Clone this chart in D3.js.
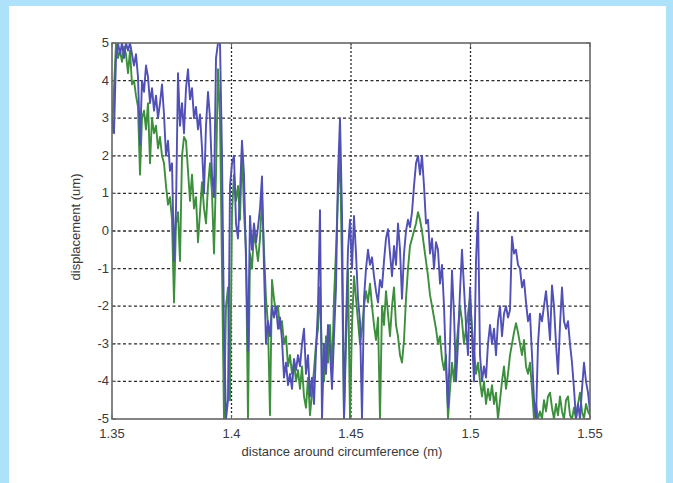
<!DOCTYPE html>
<html>
<head>
<meta charset="utf-8">
<script src="https://cdn.jsdelivr.net/npm/d3@7"></script>
<style>
  html, body { margin: 0; padding: 0; background: #aee1fa; }
  svg { display: block; }
  .tick-label { font-family: "Liberation Sans", Arial, sans-serif; font-size: 13px; fill: #3a3a3a; }
  .axis-title { font-family: "Liberation Sans", Arial, sans-serif; font-size: 13px; fill: #3a3a3a; }
</style>
</head>
<body>
<svg id="chart" width="673" height="483"></svg>
<script>
// Sampling of the measurement: first and last position and number of samples (m)
const sampleStart = 1.35;
const sampleEnd = 1.55;
const sampleCount = 240;

// Tick values for both axes
const xTicks = [1.35, 1.4, 1.45, 1.5, 1.55];
const xTickLabels = ["1.35", "1.4", "1.45", "1.5", "1.55"];
const yTicks = [5, 4, 3, 2, 1, 0, -1, -2, -3, -4, -5];
const yTickLabels = ["5", "4", "3", "2", "1", "0", "-1", "-2", "-3", "-4", "-5"];

// Displacement, first run (um)
const displacementBlue = [
  3.0, 2.6, 4.6, 5.0, 4.7, 5.0, 4.6, 5.0, 4.8, 5.0,
  4.7, 4.4, 4.7, 4.1, 2.3, 4.0, 3.7, 4.4, 4.1, 3.4,
  3.8, 3.2, 3.6, 3.0, 3.4, 3.9, 3.1, 2.0, 2.4, 1.6,
  1.8, -0.8, 0.6, 4.2, 2.8, 3.4, 2.6, 3.8, 4.3, 3.5,
  3.8, 3.0, 3.3, 2.7, 3.1, 2.2, 1.0, 2.8, 3.7, 3.0,
  1.5, 0.9, 4.6, 5.0, 5.0, 2.0, -2.6, -5.0, -4.5, 1.2,
  1.8, 2.0, 0.2, -0.2, 1.0, 2.4, 1.5, -0.8, -3.2, 0.4,
  -0.5, 0.2, -0.3, 0.1, 0.6, 1.45, -1.0, -3.0, -2.4, -2.8,
  -2.0, -2.3, -2.0, -2.6, -2.3, -2.9, -3.9, -3.5, -4.1, -3.8,
  -4.2, -3.4, -3.7, -3.3, -3.6, -3.0, -2.6, -3.8, -3.3, -4.4,
  -3.9, -4.6, -3.2, -2.0, 0.55, -5.0, -3.0, -3.8, -2.5, -3.2,
  -4.2, -2.8, -1.5, 1.5, 3.0, 0.5, -5.0, -2.5, -0.5, 0.3,
  -1.0, 0.4, -0.6, -1.8, -2.4, -5.0, -1.8, -1.0, -0.5, -0.9,
  -0.7, -1.2, -1.6, -1.9, -1.3, -1.5, -0.8, -0.2, 0.05, -0.6,
  -1.2, -0.4, -0.9, 0.2, -0.5, -1.8, -0.6, 0.0, 0.3, 0.1,
  0.5, 1.2, 1.8, 2.0, 1.5, 2.0, 1.2, 0.2, 0.3, -0.6,
  -0.2, -1.0, -0.3, -0.5, -1.4, -0.9, -2.0, -3.6, -4.7, -3.0,
  -1.05, -2.2, -4.0, -3.0, -1.6, -0.5, -1.5, -2.5, -3.3, -1.5,
  -2.8, -4.0, -0.8, 0.5, -3.3, -4.0, -3.6, -3.9, -3.0, -2.5,
  -3.0, -2.6, -3.3, -2.4, -2.0, -2.8, -2.2, -2.0, -2.3, -2.1,
  -0.15, -0.6, -0.5, -0.9, -1.0, -1.5, -1.3, -1.9, -2.4, -2.2,
  -3.3, -4.5, -5.0, -3.0, -2.2, -2.4, -2.0, -1.6, -2.2, -2.9,
  -1.45, -2.0, -3.0, -3.8, -2.5, -1.5, -2.4, -2.6, -2.4, -3.0,
  -3.5, -4.2, -5.0, -4.6, -5.0, -4.2, -3.5, -4.0, -4.3, -4.8
];

// Displacement, second run (um)
const displacementGreen = [
  2.6, 3.8, 5.0, 4.6, 4.8, 4.5, 4.9, 4.7, 4.2, 4.8,
  3.9, 4.0, 3.6, 3.3, 1.5, 3.0, 3.2, 2.7, 3.4, 1.8,
  3.0, 2.6, 2.8, 2.2, 2.5, 2.0, 1.8, 1.2, 0.7, 0.9,
  0.3, -1.9, 0.2, 0.5, -0.8, 2.0, 2.5, 2.4, 1.6, 0.8,
  1.5, 0.6, 0.9, -0.3, 0.5, 1.3, 0.6, 0.2, 1.2, 1.8,
  1.0, -0.6, 1.5, 4.3, 3.0, -1.0, -5.0, -2.0, -1.5, -4.5,
  0.5, 1.5, 0.8, 1.2, 0.3, 2.2, 0.5, -0.5, -5.0, -0.6,
  -1.0, 0.0, -0.4, -0.8, -0.2, 0.9, -0.5, -1.8, -2.5, -4.9,
  -1.3, -1.8, -2.2, -2.0, -2.6, -2.4, -3.0, -2.8, -3.6, -3.3,
  -3.8, -3.5, -4.0, -3.7, -4.2, -3.6, -4.4, -4.7, -3.9, -4.9,
  -4.3, -3.7, -3.0, -2.6, -1.5, -3.5, -4.0, -2.8, -3.5, -2.5,
  -3.8, -1.8, -0.5, 1.0, 2.1, -1.0, -5.0, -3.0, -1.0, -5.0,
  -2.5, -1.2, -1.8, -2.4, -3.0, -2.6, -2.0, -1.6, -1.9, -1.4,
  -2.0, -2.5, -2.9, -2.3, -5.0, -2.0, -2.5, -1.6, -2.2, -2.8,
  -2.0, -1.5, -2.5, -2.8, -3.3, -3.5, -2.9, -1.8, -1.0, -0.4,
  -0.2, 0.0, 0.2, 0.5, 0.3, 0.0, -0.4, -0.8, -1.2, -1.7,
  -2.0, -2.3, -2.6, -3.0, -2.8, -3.4, -3.7, -3.3, -5.0, -4.2,
  -3.5, -4.0, -3.2, -2.6, -2.0, -2.4, -3.0, -2.6, -2.2, -1.75,
  -2.6, -3.2, -3.8, -3.5, -4.0, -4.4, -4.0, -4.6, -4.2, -4.5,
  -4.1, -4.6, -4.3, -5.0, -4.5, -4.0, -3.6, -4.2, -3.8, -3.3,
  -3.0, -2.7, -2.45, -2.7, -3.0, -3.3, -2.9, -3.6, -3.8, -3.5,
  -4.2, -5.0, -4.6, -5.0, -4.8, -5.0, -4.5, -4.8, -4.4, -4.3,
  -4.7, -5.0, -4.6, -4.9, -4.4, -4.8, -5.0, -4.5, -4.4, -4.9,
  -5.0, -4.7, -5.0, -4.6, -4.3, -4.8, -5.0, -4.6, -4.8, -4.9
];

const svg = d3.select("#chart");
const W = 673, H = 483;

// Light blue frame with a white sheet
svg.append("rect").attr("x", 0).attr("y", 0).attr("width", W).attr("height", H).attr("fill", "#aee1fa");
svg.append("rect").attr("x", 9).attr("y", 6).attr("width", 657).attr("height", H - 6).attr("fill", "#ffffff");

const plot = { left: 112, right: 590, top: 43, bottom: 419 };

const x = d3.scaleLinear().domain([sampleStart, sampleEnd]).range([plot.left, plot.right]);
const y = d3.scaleLinear().domain([-5, 5]).range([plot.bottom, plot.top]);

const positions = d3.range(sampleCount).map(i => sampleStart + (sampleEnd - sampleStart) * i / (sampleCount - 1));

// Dotted grid at every inner tick
const grid = svg.append("g");
grid.selectAll("line.hg").data(yTicks.slice(1, -1)).enter().append("line")
  .attr("x1", plot.left).attr("x2", plot.right)
  .attr("y1", d => y(d)).attr("y2", d => y(d))
  .attr("stroke", "#2a2a2a").attr("stroke-width", 1.3).attr("stroke-dasharray", "3,2.5");
grid.selectAll("line.vg").data(xTicks.slice(1, -1)).enter().append("line")
  .attr("y1", plot.top).attr("y2", plot.bottom)
  .attr("x1", d => x(d)).attr("x2", d => x(d))
  .attr("stroke", "#2a2a2a").attr("stroke-width", 1.3).attr("stroke-dasharray", "2,2");

// Clip for the traces
svg.append("clipPath").attr("id", "plotClip").append("rect")
  .attr("x", plot.left).attr("y", plot.top)
  .attr("width", plot.right - plot.left).attr("height", plot.bottom - plot.top);

const line = d3.line().x((d, i) => x(positions[i])).y(d => y(d));

const traces = svg.append("g").attr("clip-path", "url(#plotClip)");
traces.append("path").datum(displacementGreen)
  .attr("fill", "none").attr("stroke", "#3d8f3d").attr("stroke-width", 1.9)
  .attr("stroke-linejoin", "round").attr("d", line);
traces.append("path").datum(displacementBlue)
  .attr("fill", "none").attr("stroke", "#5050b6").attr("stroke-width", 1.9)
  .attr("stroke-linejoin", "round").attr("d", line);

// Axes box
svg.append("rect").attr("x", plot.left).attr("y", plot.top)
  .attr("width", plot.right - plot.left).attr("height", plot.bottom - plot.top)
  .attr("fill", "none").attr("stroke", "#666").attr("stroke-width", 1.6);

// Inward ticks
const ticks = svg.append("g").attr("stroke", "#666").attr("stroke-width", 1);
xTicks.forEach(t => {
  ticks.append("line").attr("x1", x(t)).attr("x2", x(t)).attr("y1", plot.bottom).attr("y2", plot.bottom - 4);
  ticks.append("line").attr("x1", x(t)).attr("x2", x(t)).attr("y1", plot.top).attr("y2", plot.top + 4);
});
yTicks.forEach(t => {
  ticks.append("line").attr("y1", y(t)).attr("y2", y(t)).attr("x1", plot.left).attr("x2", plot.left + 4);
  ticks.append("line").attr("y1", y(t)).attr("y2", y(t)).attr("x1", plot.right).attr("x2", plot.right - 4);
});

// Tick labels
svg.append("g").selectAll("text").data(xTicks).enter().append("text")
  .attr("class", "tick-label")
  .attr("x", d => x(d)).attr("y", plot.bottom + 19)
  .attr("text-anchor", "middle")
  .text((d, i) => xTickLabels[i]);
svg.append("g").selectAll("text").data(yTicks).enter().append("text")
  .attr("class", "tick-label")
  .attr("x", plot.left - 3).attr("y", d => y(d) + 4)
  .attr("text-anchor", "end")
  .text((d, i) => yTickLabels[i]);

// Axis titles
svg.append("text").attr("class", "axis-title")
  .attr("x", 342).attr("y", 456)
  .attr("text-anchor", "middle")
  .text("distance around circumference (m)");
svg.append("text").attr("class", "axis-title")
  .attr("transform", "translate(80," + ((plot.top + plot.bottom) / 2 - 4) + ") rotate(-90)")
  .attr("text-anchor", "middle")
  .text("displacement (um)");
</script>
</body>
</html>
